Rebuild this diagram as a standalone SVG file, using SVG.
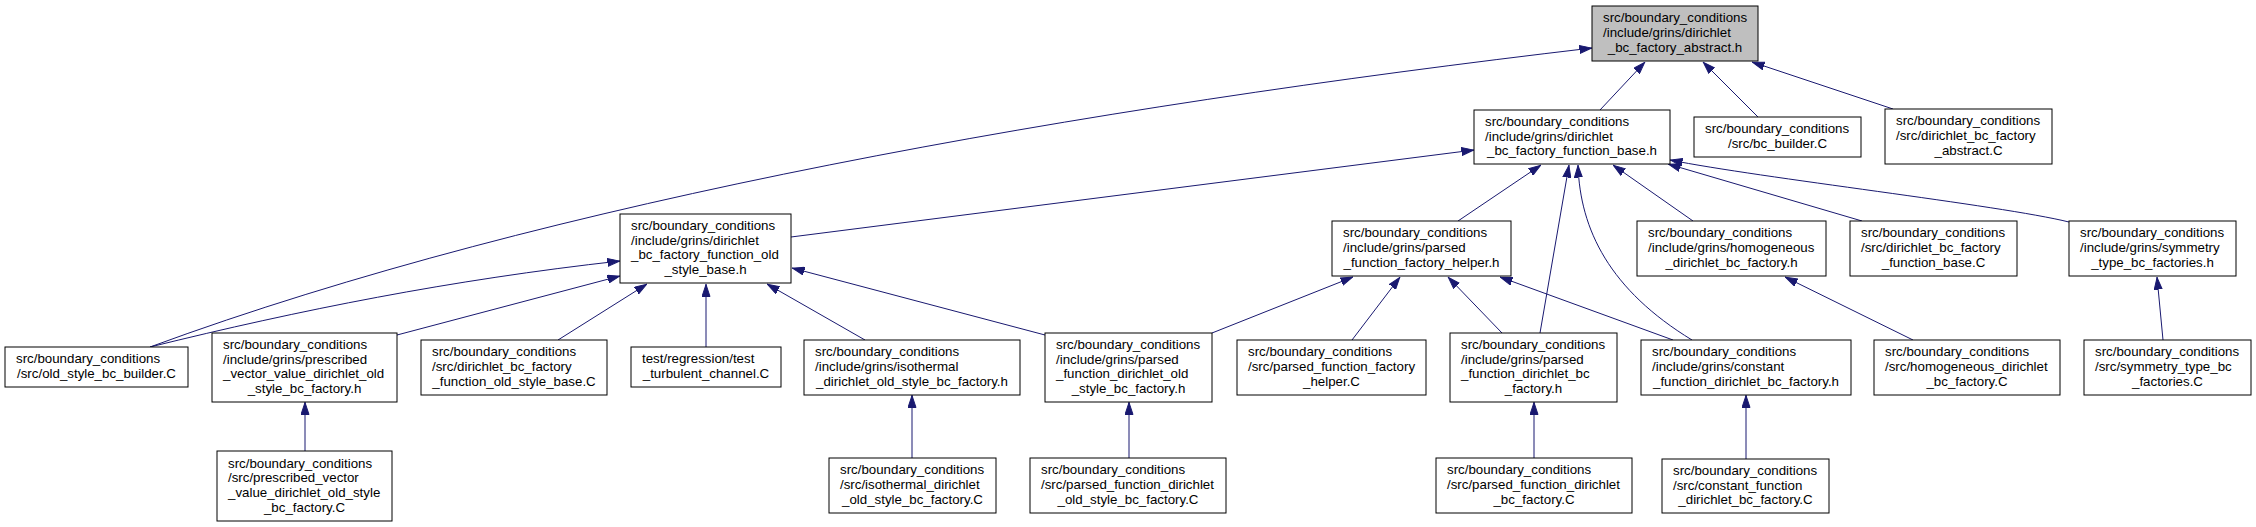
<svg xmlns="http://www.w3.org/2000/svg" width="2256" height="527" viewBox="0 0 2256 527">
<style>
.n rect{fill:#fff;stroke:#000;stroke-width:1}
.n.root rect{fill:#bfbfbf}
.n text{font-family:"Liberation Sans",Arial,sans-serif;font-size:13.3px;fill:#000}
.n text.c{text-anchor:middle}
#edges path{fill:none;stroke:#191970;stroke-width:1;marker-end:url(#ah)}
</style>
<defs>
<marker id="ah" markerWidth="12.5" markerHeight="9" refX="12.5" refY="4.5" orient="auto" markerUnits="userSpaceOnUse"><path d="M0,0.5 L12,4.5 L0,8.5 z" fill="#191970" stroke="#191970" stroke-width="1"/></marker>
</defs>
<rect width="2256" height="527" fill="#fff"/>
<g id="edges">
<path d="M1600,110 L1645,62"/>
<path d="M1758,117 L1703,62"/>
<path d="M1893,109 L1752,62"/>
<path d="M150,347 C550,200 1082,108 1592,48"/>
<path d="M150,347 C300,310 450,280 620,261"/>
<path d="M397,335 L620,276"/>
<path d="M558,340 L647,284"/>
<path d="M706,347 L706,284"/>
<path d="M865,340 L767,284"/>
<path d="M1045,335 L792,268"/>
<path d="M791,237 L1474,150"/>
<path d="M1458,221 L1541,165"/>
<path d="M1540,333 L1569,165"/>
<path d="M1692,340 C1610,290 1580,230 1578,165"/>
<path d="M1693,221 L1613,165"/>
<path d="M1862,221 L1668,164"/>
<path d="M2069,222 C2000,205 1760,178 1670,160"/>
<path d="M1212,333 L1353,277"/>
<path d="M1352,340 L1400,277"/>
<path d="M1502,333 L1448,277"/>
<path d="M1673,340 L1500,277"/>
<path d="M305,451 L305,402"/>
<path d="M912,458 L912,395"/>
<path d="M1129,458 L1129,402"/>
<path d="M1534,458 L1534,402"/>
<path d="M1746,459 L1746,395"/>
<path d="M1913,340 L1785,277"/>
<path d="M2163,340 L2157,277"/>
</g>
<g id="n_abstract_h" class="n root"><rect x="1592" y="6" width="166" height="55"/>
<text x="1603" y="22.3">src/boundary_conditions</text><text x="1603" y="37">/include/grins/dirichlet</text><text class="c" x="1675" y="51.7">_bc_factory_abstract.h</text></g>
<g id="n_function_base_h" class="n"><rect x="1474" y="110" width="196" height="54"/>
<text x="1485" y="125.8">src/boundary_conditions</text><text x="1485" y="140.5">/include/grins/dirichlet</text><text class="c" x="1572" y="155.2">_bc_factory_function_base.h</text></g>
<g id="n_bc_builder_C" class="n"><rect x="1694" y="117" width="167" height="40"/>
<text x="1705" y="133.1">src/boundary_conditions</text><text class="c" x="1777.5" y="147.8">/src/bc_builder.C</text></g>
<g id="n_abstract_C" class="n"><rect x="1885" y="109" width="167" height="55"/>
<text x="1896" y="125.3">src/boundary_conditions</text><text x="1896" y="140">/src/dirichlet_bc_factory</text><text class="c" x="1968.5" y="154.7">_abstract.C</text></g>
<g id="n_old_style_base_h" class="n"><rect x="620" y="214" width="171" height="69"/>
<text x="631" y="230">src/boundary_conditions</text><text x="631" y="244.7">/include/grins/dirichlet</text><text x="631" y="259.4">_bc_factory_function_old</text><text class="c" x="705.5" y="274.1">_style_base.h</text></g>
<g id="n_helper_h" class="n"><rect x="1332" y="221" width="179" height="55"/>
<text x="1343" y="237.3">src/boundary_conditions</text><text x="1343" y="252">/include/grins/parsed</text><text class="c" x="1421.5" y="266.7">_function_factory_helper.h</text></g>
<g id="n_homogeneous_h" class="n"><rect x="1637" y="221" width="189" height="55"/>
<text x="1648" y="237.3">src/boundary_conditions</text><text x="1648" y="252">/include/grins/homogeneous</text><text class="c" x="1731.5" y="266.7">_dirichlet_bc_factory.h</text></g>
<g id="n_function_base_C" class="n"><rect x="1850" y="221" width="167" height="55"/>
<text x="1861" y="237.3">src/boundary_conditions</text><text x="1861" y="252">/src/dirichlet_bc_factory</text><text class="c" x="1933.5" y="266.7">_function_base.C</text></g>
<g id="n_symmetry_h" class="n"><rect x="2069" y="221" width="167" height="55"/>
<text x="2080" y="237.3">src/boundary_conditions</text><text x="2080" y="252">/include/grins/symmetry</text><text class="c" x="2152.5" y="266.7">_type_bc_factories.h</text></g>
<g id="n_old_style_bc_builder_C" class="n"><rect x="5" y="347" width="183" height="40"/>
<text x="16" y="363.1">src/boundary_conditions</text><text class="c" x="96.5" y="377.8">/src/old_style_bc_builder.C</text></g>
<g id="n_prescribed_h" class="n"><rect x="212" y="333" width="185" height="69"/>
<text x="223" y="349">src/boundary_conditions</text><text x="223" y="363.7">/include/grins/prescribed</text><text x="223" y="378.4">_vector_value_dirichlet_old</text><text class="c" x="304.5" y="393.1">_style_bc_factory.h</text></g>
<g id="n_old_style_base_C" class="n"><rect x="421" y="340" width="186" height="55"/>
<text x="432" y="356.3">src/boundary_conditions</text><text x="432" y="371">/src/dirichlet_bc_factory</text><text class="c" x="514" y="385.7">_function_old_style_base.C</text></g>
<g id="n_test_turbulent_C" class="n"><rect x="631" y="347" width="150" height="40"/>
<text x="642" y="363.1">test/regression/test</text><text class="c" x="706" y="377.8">_turbulent_channel.C</text></g>
<g id="n_isothermal_h" class="n"><rect x="804" y="340" width="216" height="55"/>
<text x="815" y="356.3">src/boundary_conditions</text><text x="815" y="371">/include/grins/isothermal</text><text class="c" x="912" y="385.7">_dirichlet_old_style_bc_factory.h</text></g>
<g id="n_parsed_old_h" class="n"><rect x="1045" y="333" width="167" height="69"/>
<text x="1056" y="349">src/boundary_conditions</text><text x="1056" y="363.7">/include/grins/parsed</text><text x="1056" y="378.4">_function_dirichlet_old</text><text class="c" x="1128.5" y="393.1">_style_bc_factory.h</text></g>
<g id="n_helper_C" class="n"><rect x="1237" y="340" width="189" height="55"/>
<text x="1248" y="356.3">src/boundary_conditions</text><text x="1248" y="371">/src/parsed_function_factory</text><text class="c" x="1331.5" y="385.7">_helper.C</text></g>
<g id="n_parsed_bc_h" class="n"><rect x="1450" y="333" width="167" height="69"/>
<text x="1461" y="349">src/boundary_conditions</text><text x="1461" y="363.7">/include/grins/parsed</text><text x="1461" y="378.4">_function_dirichlet_bc</text><text class="c" x="1533.5" y="393.1">_factory.h</text></g>
<g id="n_constant_h" class="n"><rect x="1641" y="340" width="210" height="55"/>
<text x="1652" y="356.3">src/boundary_conditions</text><text x="1652" y="371">/include/grins/constant</text><text class="c" x="1746" y="385.7">_function_dirichlet_bc_factory.h</text></g>
<g id="n_homogeneous_C" class="n"><rect x="1874" y="340" width="186" height="55"/>
<text x="1885" y="356.3">src/boundary_conditions</text><text x="1885" y="371">/src/homogeneous_dirichlet</text><text class="c" x="1967" y="385.7">_bc_factory.C</text></g>
<g id="n_symmetry_C" class="n"><rect x="2084" y="340" width="167" height="55"/>
<text x="2095" y="356.3">src/boundary_conditions</text><text x="2095" y="371">/src/symmetry_type_bc</text><text class="c" x="2167.5" y="385.7">_factories.C</text></g>
<g id="n_prescribed_C" class="n"><rect x="217" y="451" width="175" height="70"/>
<text x="228" y="467.5">src/boundary_conditions</text><text x="228" y="482.2">/src/prescribed_vector</text><text x="228" y="496.9">_value_dirichlet_old_style</text><text class="c" x="304.5" y="511.6">_bc_factory.C</text></g>
<g id="n_isothermal_C" class="n"><rect x="829" y="458" width="167" height="55"/>
<text x="840" y="474.3">src/boundary_conditions</text><text x="840" y="489">/src/isothermal_dirichlet</text><text class="c" x="912.5" y="503.7">_old_style_bc_factory.C</text></g>
<g id="n_parsed_old_C" class="n"><rect x="1030" y="458" width="196" height="55"/>
<text x="1041" y="474.3">src/boundary_conditions</text><text x="1041" y="489">/src/parsed_function_dirichlet</text><text class="c" x="1128" y="503.7">_old_style_bc_factory.C</text></g>
<g id="n_parsed_bc_C" class="n"><rect x="1436" y="458" width="196" height="55"/>
<text x="1447" y="474.3">src/boundary_conditions</text><text x="1447" y="489">/src/parsed_function_dirichlet</text><text class="c" x="1534" y="503.7">_bc_factory.C</text></g>
<g id="n_constant_C" class="n"><rect x="1662" y="459" width="167" height="54"/>
<text x="1673" y="474.8">src/boundary_conditions</text><text x="1673" y="489.5">/src/constant_function</text><text class="c" x="1745.5" y="504.2">_dirichlet_bc_factory.C</text></g>
</svg>
